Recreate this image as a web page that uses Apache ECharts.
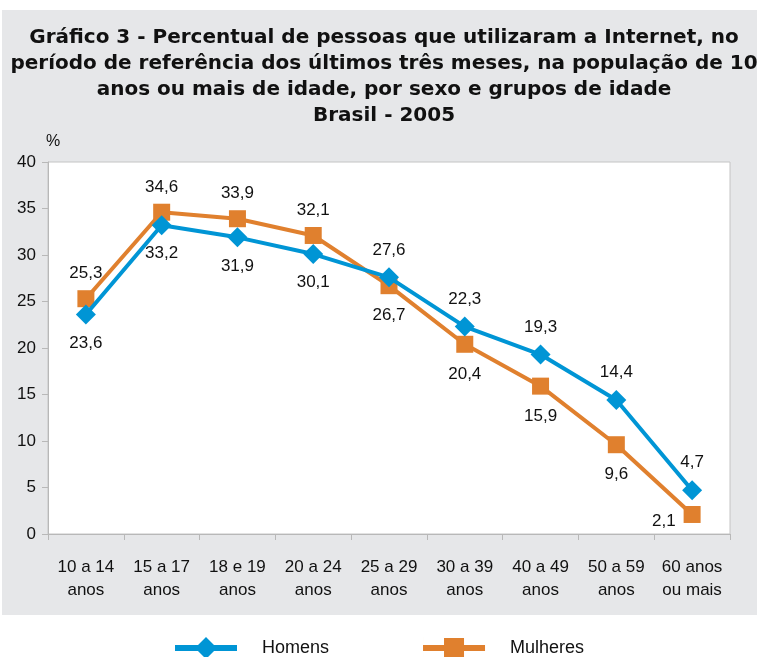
<!DOCTYPE html>
<html>
<head>
<meta charset="utf-8">
<script src="https://cdn.jsdelivr.net/npm/echarts@6/dist/echarts.min.js"></script>
<style>
  html, body { margin: 0; padding: 0; background: #fff; }
  #chart { width: 759px; height: 657px; }
</style>
</head>
<body>
<div id="chart"></div>
<script>
const categories = ['10 a 14\nanos', '15 a 17\nanos', '18 e 19\nanos', '20 a 24\nanos', '25 a 29\nanos', '30 a 39\nanos', '40 a 49\nanos', '50 a 59\nanos', '60 anos\nou mais']
const homens = [23.6, 33.2, 31.9, 30.1, 27.6, 22.3, 19.3, 14.4, 4.7]
const mulheres = [25.3, 34.6, 33.9, 32.1, 26.7, 20.4, 15.9, 9.6, 2.1]

// onde fica cada rotulo
const posHomens = ['bottom', 'bottom', 'bottom', 'bottom', 'top', 'top', 'top', 'top', 'top']
const posMulheres = ['top', 'top', 'top', 'top', 'bottom', 'bottom', 'bottom', 'bottom', 'left']

const azul = '#0095d5'
const laranja = '#e0802e'
const fonte = '"Liberation Sans", Arial, sans-serif'

// icones da legenda: linha grossa com o marcador no meio
const iconeHomens = 'path://M0 8L62 8L62 14L0 14Z M31 0L42 11L31 22L20 11Z'
const iconeMulheres = 'path://M0 8L62 8L62 14L0 14Z M21 1L41 1L41 21L21 21Z M0 0L0.01 0L0.01 22L0 22Z'

function fmt(v) {
  return String(v.toFixed(1)).replace('.', ',')
}

function pontos(vals, pos, dTop, dBottom) {
  return vals.map((v, i) => ({
    value: v,
    label: {
      position: pos[i],
      distance: pos[i] === 'left' ? 8 : (pos[i] === 'top' ? dTop : dBottom),
      offset: pos[i] === 'left' ? [0, 7] : [0, 0]
    }
  }))
}

const chart = echarts.init(document.getElementById('chart'))
chart.setOption({
  backgroundColor: '#fff',
  animation: false,
  graphic: [{
    type: 'rect',
    z: -10,
    shape: { x: 2, y: 10, width: 755, height: 605 },
    style: { fill: '#e6e7e9' }
  }],
  title: {
    text: 'Gráfico 3 - Percentual de pessoas que utilizaram a Internet, no\nperíodo de referência dos últimos três meses, na população de 10\nanos ou mais de idade, por sexo e grupos de idade\nBrasil - 2005',
    left: 379,
    top: 20,
    textAlign: 'center',
    textStyle: {
      fontFamily: '"DejaVu Sans", sans-serif',
      fontSize: 20,
      fontWeight: 'bold',
      lineHeight: 26,
      color: '#111'
    }
  },
  legend: {
    bottom: -7,
    left: 170,
    itemWidth: 62,
    itemHeight: 22,
    itemGap: 94,
    textStyle: { fontFamily: fonte, fontSize: 18, color: '#111', padding: [0, 0, 0, 20] },
    data: [
      { name: 'Homens', icon: iconeHomens, itemStyle: { color: azul } },
      { name: 'Mulheres', icon: iconeMulheres, itemStyle: { color: laranja } }
    ]
  },
  grid: {
    left: 48,
    right: 29,
    top: 162,
    bottom: 123,
    show: true,
    backgroundColor: '#fff',
    borderColor: '#c4c4c4',
    borderWidth: 1
  },
  xAxis: {
    type: 'category',
    data: categories,
    boundaryGap: true,
    axisLine: { lineStyle: { color: '#b8b8b8' } },
    axisTick: { show: true, length: 6, lineStyle: { color: '#b8b8b8' } },
    axisLabel: {
      interval: 0,
      margin: 22,
      fontFamily: fonte,
      fontSize: 17,
      lineHeight: 23,
      color: '#111'
    }
  },
  yAxis: {
    type: 'value',
    min: 0,
    max: 40,
    interval: 5,
    name: '%',
    nameLocation: 'end',
    nameGap: 12,
    nameTextStyle: { fontFamily: fonte, fontSize: 16, color: '#111', align: 'left', padding: [0, 0, 0, -2] },
    axisLine: { show: true, lineStyle: { color: '#b8b8b8' } },
    axisTick: { show: true, length: 6, lineStyle: { color: '#b8b8b8' } },
    splitLine: { show: false },
    axisLabel: { fontFamily: fonte, fontSize: 17, color: '#111', margin: 12 }
  },
  series: [{
    name: 'Homens',
    type: 'line',
    data: pontos(homens, posHomens, 9, 10),
    symbol: 'diamond',
    symbolSize: 20,
    lineStyle: { color: azul, width: 4 },
    itemStyle: { color: azul },
    label: {
      show: true,
      fontFamily: fonte,
      fontSize: 17,
      color: '#111',
      formatter: p => fmt(p.value)
    },
    z: 3
  }, {
    name: 'Mulheres',
    type: 'line',
    data: pontos(mulheres, posMulheres, 8, 13),
    symbol: 'rect',
    symbolSize: 17,
    lineStyle: { color: laranja, width: 4 },
    itemStyle: { color: laranja },
    label: {
      show: true,
      fontFamily: fonte,
      fontSize: 17,
      color: '#111',
      formatter: p => fmt(p.value)
    },
    z: 2
  }]
})
</script>
</body>
</html>
